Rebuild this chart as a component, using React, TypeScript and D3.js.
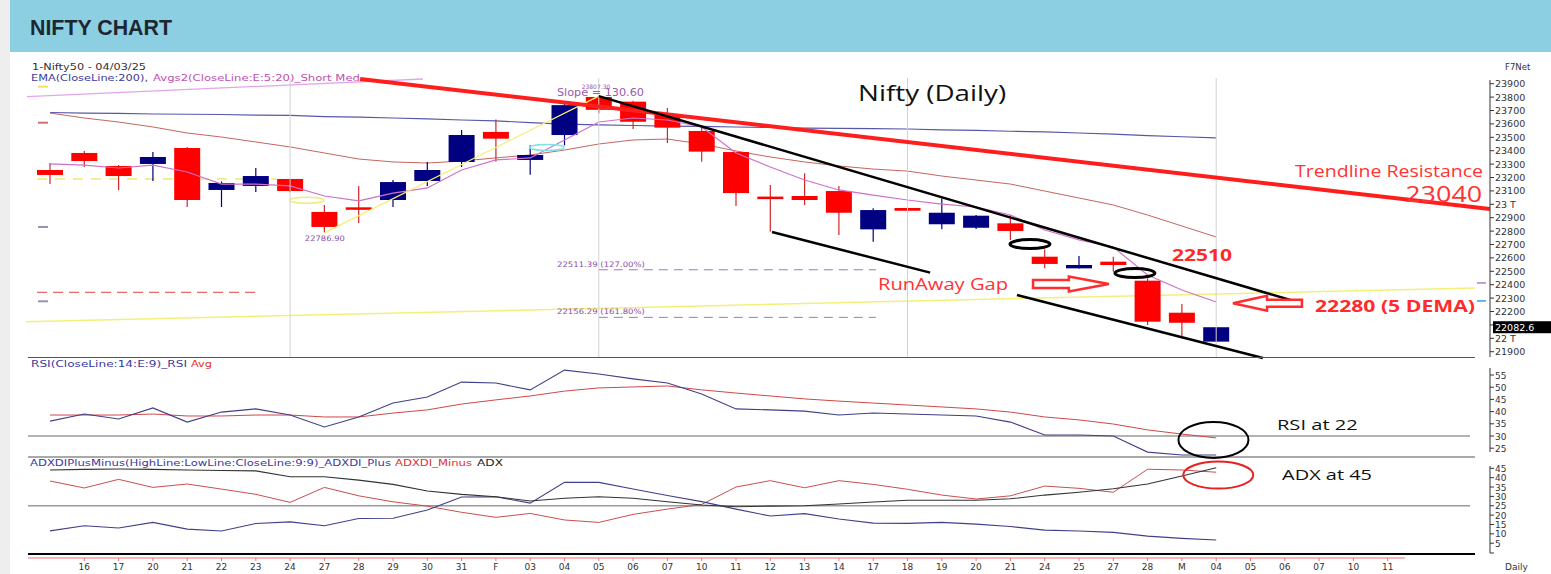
import React from 'react';
import * as d3 from 'd3';

const W = 1551;
const H = 574;

// x labels (index 0 = 15 Jan, unlabeled)
const dateLabels = ["", "16", "17", "20", "21", "22", "23", "24", "27", "28", "29", "30", "31", "F", "03", "04", "05", "06", "07", "10", "11", "12", "13", "14", "17", "18", "19", "20", "21", "24", "25", "27", "28", "M", "04", "05", "06", "07", "10", "11"];

const opens = [23256, 23383, 23286, 23301, 23420, 23107, 23137, 23189, 22943, 22970, 23032, 23174, 23316, 23540, 23331, 23517, 23801, 23766, 23674, 23547, 23390, 23050, 23062, 23099, 22813, 22965, 22851, 22825, 22858, 22609, 22522, 22572, 22430, 22191, 21975];
const highs = [23308, 23398, 23293, 23390, 23428, 23170, 23271, 23190, 22995, 23137, 23181, 23316, 23555, 23632, 23440, 23762, 23807, 23773, 23719, 23572, 23392, 23144, 23231, 23137, 22970, 22968, 23045, 22920, 22920, 22664, 22614, 22609, 22448, 22256, 22082.6];
const lows = [23151, 23278, 23107, 23174, 22980, 22980, 23092, 23090, 22787, 22860, 22980, 23137, 23278, 23318, 23220, 23440, 23680, 23562, 23457, 23318, 22987, 22796, 22995, 22771, 22721, 22948, 22813, 22815, 22734, 22522, 22520, 22497, 22099, 22000, 21975];
const closes = [23219, 23323, 23211, 23353, 23032, 23159, 23211, 23099, 22831, 22965, 23166, 23256, 23517, 23490, 23368, 23740, 23705, 23616, 23572, 23393, 23084, 23045, 23032, 22937, 22957, 22952, 22937, 22915, 22801, 22555, 22547, 22547, 22124, 22116, 22082.6];

const ema200 = [23685, 23681, 23678, 23674, 23672, 23670, 23666, 23663, 23655, 23651, 23644, 23637, 23629, 23622, 23610, 23599, 23592, 23588, 23584, 23581, 23577, 23573, 23569, 23567, 23565, 23562, 23556, 23551, 23545, 23540, 23532, 23523, 23513, 23504, 23495];
const avgShort = [23301, 23293, 23271, 23293, 23241, 23151, 23151, 23137, 23062, 23025, 23084, 23122, 23256, 23331, 23346, 23480, 23614, 23644, 23629, 23577, 23383, 23278, 23181, 23107, 23069, 23032, 23002, 22980, 22920, 22808, 22734, 22681, 22472, 22360, 22271];
const avgMed = [23681, 23644, 23614, 23577, 23532, 23502, 23465, 23428, 23383, 23338, 23316, 23308, 23323, 23346, 23368, 23405, 23450, 23480, 23487, 23450, 23398, 23353, 23316, 23286, 23263, 23248, 23211, 23181, 23151, 23099, 23047, 22995, 22920, 22838, 22756];

const rsi = [36.1, 39.0, 37.0, 41.5, 35.7, 39.8, 41.1, 38.6, 33.7, 37.8, 43.5, 46.0, 52.1, 51.7, 48.9, 57.0, 55.4, 53.4, 51.7, 47.2, 41.1, 40.7, 40.2, 38.6, 39.4, 39.0, 38.6, 38.2, 35.7, 30.4, 30.4, 30.0, 23.4, 22.2, 22.2];
const rsiAvg = [38.6, 38.6, 38.6, 39.0, 38.2, 38.2, 38.6, 38.6, 37.8, 37.8, 39.4, 40.7, 43.1, 44.8, 46.4, 48.4, 49.7, 50.1, 50.5, 48.9, 47.6, 46.4, 45.2, 44.3, 43.5, 42.7, 41.9, 41.1, 39.8, 37.8, 36.6, 34.9, 32.5, 30.8, 29.2];

const diPlus = [11.6, 14.3, 13.1, 16.1, 12.5, 11.5, 15.5, 16.4, 14.3, 18.2, 18.3, 22.7, 29.7, 29.8, 26.4, 37.5, 37.5, 33.9, 30.5, 27.2, 23.2, 19.5, 20.8, 17.9, 15.7, 15.6, 16.1, 15.2, 13.9, 12.0, 11.5, 10.8, 8.8, 7.6, 6.7];
const diMinus = [38.2, 34.5, 39.1, 34.8, 36.6, 33.9, 31.1, 26.8, 34.8, 30.3, 27.1, 24.8, 21.5, 18.8, 20.9, 17.4, 16.1, 20.4, 23.2, 25.7, 35.0, 38.4, 34.6, 38.4, 36.4, 33.8, 30.7, 28.6, 30.3, 35.5, 34.3, 32.2, 44.5, 44.1, 42.9];
const adx = [44.1, 44.4, 44.6, 44.4, 44.1, 43.8, 43.6, 40.5, 40.5, 38.7, 36.4, 32.9, 31.1, 29.8, 27.5, 29.0, 29.8, 29.0, 27.1, 25.4, 24.5, 24.8, 25.0, 25.9, 27.0, 27.9, 27.9, 27.9, 28.7, 30.7, 32.2, 34.1, 36.6, 40.9, 45.3];

const priceTicks = d3.range(21900, 23901, 100);
const rsiTicks = [25, 30, 35, 40, 45, 50, 55];
const adxTicks = [5, 10, 15, 20, 25, 30, 35, 40, 45];
const lastPrice = 22082.6;

// drawn studies: [startIndex, startValue, endIndex, endValue]
const trendResistance = [9.04, 23935, 41.98, 22965];
const channelUpper = [16, 23807, 36.36, 22271];
const channelLowerA = [21.05, 22793, 25.66, 22490];
const channelLowerB = [28.19, 22323, 35.36, 21853];
const yellowLong = [-0.7, 22124, 41.55, 22376];
const yellowSwing = [8, 22787, 16, 23807];
const violetTop = [-0.67, 23803, 10.87, 23935];
const fibLevels = [22511.39, 22156.29];
const fibLabels = ["22511.39 (127.00%)", "22156.29 (161.80%)"];

const PL = 28;
const PR = 1475;
const AX = 1490;

const red = '#ff0000';
const navy = '#000080';
const mono = 'DejaVu Sans, Verdana, sans-serif';
const sans = 'Open Sans, Lato, sans-serif';

export default function App() {
  const x = d3.scaleLinear().domain([0, 38]).range([50, 50 + 34.3 * 38]);
  const yP = d3.scaleLinear().domain([21900, 23900]).range([351.7, 83.7]);
  const yR = d3.scaleLinear().domain([25, 55]).range([448.2, 375]);
  const yA = d3.scaleLinear().domain([5, 45]).range([543.2, 468.3]);

  const lineOf = (ys: d3.ScaleLinear<number, number>) =>
    d3.line<number>().x((_, i) => x(i)).y((d) => ys(d));
  const seg = (s: number[], ys = yP) => `M${x(s[0])},${ys(s[1])}L${x(s[2])},${ys(s[3])}`;

  const bw = 26;
  const candles = opens.map((o, i) => {
    const c = closes[i];
    const up = c >= o;
    const col = up ? navy : red;
    const wick = up ? navy : '#d02828';
    const yt = yP(Math.max(o, c));
    const yb = yP(Math.min(o, c));
    const cx = x(i);
    const flat = yb - yt < 2.5;
    return (
      <g key={i}>
        <line x1={cx} x2={cx} y1={yP(highs[i])} y2={yP(lows[i])} stroke={wick} strokeWidth={1.2} />
        {flat ? (
          <rect x={cx - bw / 2} y={yt - 1} width={bw} height={Math.max(2.5, yb - yt + 1)} fill={col} />
        ) : (
          <rect x={cx - bw / 2} y={yt} width={bw} height={yb - yt} fill={col} />
        )}
      </g>
    );
  });

  // arrows
  const ra = { x1: x(28.66), x2: x(30.87), cy: yP(22405) };
  const rightArrow = `M${ra.x1},${ra.cy - 4}L${ra.x2 - 40},${ra.cy - 4}L${ra.x2 - 40},${ra.cy - 7.5}L${ra.x2},${ra.cy}L${ra.x2 - 40},${ra.cy + 7.5}L${ra.x2 - 40},${ra.cy + 4}L${ra.x1},${ra.cy + 4}Z`;
  const la = { xt: x(34.49), xe: x(36.5), cy: yP(22262) };
  const leftArrow = `M${la.xt},${la.cy}L${la.xt + 34},${la.cy - 7.5}L${la.xt + 34},${la.cy - 3.5}L${la.xe},${la.cy - 3.5}L${la.xe},${la.cy + 3.5}L${la.xt + 34},${la.cy + 3.5}L${la.xt + 34},${la.cy + 7.5}Z`;

  const visiblePriceTicks = priceTicks.filter((v) => Math.abs(yP(v) - yP(lastPrice)) > 8);

  return (
    <svg width={W} height={H} style={{ position: 'absolute', left: 0, top: 0, background: '#fff' }}>
      <rect x={0} y={0} width={W} height={H} fill="#ffffff" />
      <rect x={0} y={0} width={10} height={H} fill="#eeeeee" />
      <rect x={10} y={0} width={W - 10} height={52} fill="#8ccfe2" />
      <text x={30} y={35} fontFamily="Liberation Sans, Arial, sans-serif" fontWeight="bold" fontSize={22} fill="#1d2731" textLength={142} lengthAdjust="spacingAndGlyphs">NIFTY CHART</text>

      {/* legend */}
      <text x={32} y={70} fontFamily={mono} fontSize={9} fill="#333" textLength={114} lengthAdjust="spacingAndGlyphs">1-Nifty50 - 04/03/25</text>
      <text x={31} y={81} fontFamily={mono} fontSize={9} fill="#3a3aa0" textLength={117} lengthAdjust="spacingAndGlyphs">EMA(CloseLine:200),</text>
      <text x={153} y={81} fontFamily={mono} fontSize={9} fill="#c050b0" textLength={207} lengthAdjust="spacingAndGlyphs">Avgs2(CloseLine:E:5:20)_Short Med</text>
      <text x={1505} y={70} fontFamily={mono} fontSize={8.5} fill="#333">F7Net</text>

      {/* main panel studies */}
      <path d={seg(violetTop)} stroke="#e2a6ea" strokeWidth={1.3} fill="none" />
      <path d={lineOf(yP)(ema200) || ''} stroke="#5858a8" strokeWidth={1.2} fill="none" />
      <path d={lineOf(yP)(avgMed) || ''} stroke="#c46660" strokeWidth={1} fill="none" />
      <path d={seg(yellowLong)} stroke="#f2f078" strokeWidth={1.5} fill="none" />
      <line x1={x(-0.38)} x2={x(6.6)} y1={yP(23189)} y2={yP(23189)} stroke="#f2ee96" strokeWidth={2} strokeDasharray="10 8" />
      <line x1={x(-0.38)} x2={x(5.98)} y1={yP(22343)} y2={yP(22343)} stroke="#e06868" strokeWidth={1.2} strokeDasharray="10 6" />
      {fibLevels.map((v, k) => (
        <g key={k}>
          <line x1={x(16)} x2={x(24.08)} y1={yP(v)} y2={yP(v)} stroke="#9a7ab8" strokeWidth={1} strokeDasharray="9 6" />
          <text x={x(14.78)} y={yP(v) - 3} fontFamily={mono} fontSize={7.5} fill="#8a50a8" textLength={88} lengthAdjust="spacingAndGlyphs">{fibLabels[k]}</text>
        </g>
      ))}
      {/* left / right level markers */}
      <line x1={38} x2={48} y1={yP(23878)} y2={yP(23878)} stroke="#f0e060" strokeWidth={2} />
      <line x1={38} x2={48} y1={yP(23609)} y2={yP(23609)} stroke="#d07070" strokeWidth={2} />
      <line x1={38} x2={48} y1={yP(22831)} y2={yP(22831)} stroke="#9a90b0" strokeWidth={2} />
      <line x1={38} x2={48} y1={yP(22276)} y2={yP(22276)} stroke="#9a90b0" strokeWidth={2} />
      <line x1={1477} x2={1486} y1={yP(22413)} y2={yP(22413)} stroke="#b080c0" strokeWidth={1.5} />
      <line x1={1477} x2={1486} y1={yP(22279)} y2={yP(22279)} stroke="#40a0d8" strokeWidth={1.5} />

      {candles}
      <path d={lineOf(yP)(avgShort) || ''} stroke="#d070c8" strokeWidth={1.2} fill="none" />
      <path d={seg(yellowSwing)} stroke="#f4f070" strokeWidth={1.2} fill="none" />
      <ellipse cx={x(7.49)} cy={yP(23031)} rx={17} ry={3} fill="none" stroke="#f0ec80" strokeWidth={1.5} />
      <ellipse cx={x(14.49)} cy={yP(23424)} rx={17} ry={3} fill="none" stroke="#80e0e8" strokeWidth={1.5} />

      {/* vertical grid */}
      {[7, 16, 25, 34].map((i) => (
        <line key={i} x1={x(i)} x2={x(i)} y1={78} y2={357} stroke="#d2d2d2" strokeWidth={1} />
      ))}

      {/* drawn lines */}
      <path d={seg(trendResistance)} stroke="#ff1e1e" strokeWidth={4} fill="none" />
      <path d={seg(channelUpper)} stroke="#000" strokeWidth={2.5} fill="none" />
      <path d={seg(channelLowerA)} stroke="#000" strokeWidth={2.5} fill="none" />
      <path d={seg(channelLowerB)} stroke="#000" strokeWidth={2.5} fill="none" />
      <ellipse cx={x(28.57)} cy={yP(22703)} rx={20} ry={4.5} fill="none" stroke="#000" strokeWidth={3} />
      <ellipse cx={x(31.63)} cy={yP(22487)} rx={20} ry={4.5} fill="none" stroke="#000" strokeWidth={3} />
      <path d={rightArrow} fill="#fff" stroke="#ff2d2d" strokeWidth={2.5} />
      <path d={leftArrow} fill="#fff" stroke="#ff2d2d" strokeWidth={2.5} />

      {/* text annotations */}
      <text x={x(14.78)} y={yP(23808)} fontFamily={mono} fontSize={10} fill="#9a5ab0" textLength={87} lengthAdjust="spacingAndGlyphs">Slope = 130.60</text>
      <text x={x(15.5)} y={yP(23860)} fontFamily={mono} fontSize={6} fill="#9a5ab0">23807.30</text>
      <text x={x(7.43)} y={yP(22726)} fontFamily={mono} fontSize={7.5} fill="#8a50a8" textLength={40} lengthAdjust="spacingAndGlyphs">22786.90</text>
      <text x={x(23.56)} y={yP(23771)} fontFamily={sans} fontSize={21} fill="#111" textLength={148} lengthAdjust="spacingAndGlyphs">Nifty (Daily)</text>
      <text x={x(36.3)} y={yP(23202)} fontFamily={sans} fontSize={15.5} fill="#ff3333" textLength={188} lengthAdjust="spacingAndGlyphs">Trendline Resistance</text>
      <text x={x(39.51)} y={yP(23016)} fontFamily={sans} fontSize={21} fill="#ff3333" textLength={77} lengthAdjust="spacingAndGlyphs">23040</text>
      <text x={x(32.71)} y={yP(22576)} fontFamily={sans} fontWeight="bold" fontSize={16} fill="#ff2a2a" textLength={60} lengthAdjust="spacingAndGlyphs">22510</text>
      <text x={x(24.14)} y={yP(22362)} fontFamily={sans} fontSize={16} fill="#ff3333" textLength={130} lengthAdjust="spacingAndGlyphs">RunAway Gap</text>
      <text x={x(36.88)} y={yP(22197)} fontFamily={sans} fontWeight="bold" fontSize={16} fill="#ff2a2a" textLength={160} lengthAdjust="spacingAndGlyphs">22280 (5 DEMA)</text>

      {/* price axis */}
      <line x1={AX} x2={AX} y1={80} y2={357} stroke="#333" strokeWidth={1} />
      {priceTicks.map((v) => (
        <line key={v} x1={AX} x2={AX + 4} y1={yP(v)} y2={yP(v)} stroke="#333" />
      ))}
      {visiblePriceTicks.map((v) => (
        <text key={v} x={AX + 5} y={yP(v) + 3.5} fontFamily={mono} fontSize={9.5} fill="#333">{v % 1000 === 0 ? `${v / 1000} T` : v}</text>
      ))}
      <rect x={AX + 3} y={yP(lastPrice) - 6} width={W - AX - 3} height={12} fill="#000" />
      <text x={AX + 5} y={yP(lastPrice) + 3.5} fontFamily={mono} fontSize={9.5} fill="#fff">{lastPrice.toFixed(1)}</text>

      {/* panel separators */}
      <line x1={PL} x2={PR} y1={357.5} y2={357.5} stroke="#555" strokeWidth={1.2} />
      <line x1={PL} x2={PR} y1={457} y2={457} stroke="#555" strokeWidth={1.2} />

      {/* RSI panel */}
      <text x={31} y={367} fontFamily={mono} fontSize={9} fill="#3a3aa0" textLength={156} lengthAdjust="spacingAndGlyphs">RSI(CloseLine:14:E:9)_RSI</text>
      <text x={191} y={367} fontFamily={mono} fontSize={9} fill="#e03030" textLength={21} lengthAdjust="spacingAndGlyphs">Avg</text>
      <line x1={PL} x2={1470} y1={yR(30)} y2={yR(30)} stroke="#9a9a9a" strokeWidth={1.5} />
      <path d={lineOf(yR)(rsiAvg) || ''} stroke="#d04848" strokeWidth={1} fill="none" />
      <path d={lineOf(yR)(rsi) || ''} stroke="#404088" strokeWidth={1.1} fill="none" />
      <line x1={AX} x2={AX} y1={368} y2={452} stroke="#333" />
      {rsiTicks.map((v) => (
        <g key={v}>
          <line x1={AX} x2={AX + 4} y1={yR(v)} y2={yR(v)} stroke="#333" />
          <text x={AX + 5} y={yR(v) + 3.5} fontFamily={mono} fontSize={9} fill="#333">{v}</text>
        </g>
      ))}
      <ellipse cx={x(33.92)} cy={yR(28.4)} rx={35} ry={18} fill="none" stroke="#000" strokeWidth={2} />
      <text x={x(35.77)} y={yR(32.3)} fontFamily={sans} fontSize={15} fill="#111" textLength={81} lengthAdjust="spacingAndGlyphs">RSI at 22</text>

      {/* ADX panel */}
      <text x={30} y={466} fontFamily={mono} fontSize={9} fill="#3a3aa0" textLength={361} lengthAdjust="spacingAndGlyphs">ADXDIPlusMinus(HighLine:LowLine:CloseLine:9:9)_ADXDI_Plus</text>
      <text x={395} y={466} fontFamily={mono} fontSize={9} fill="#e03030" textLength={77} lengthAdjust="spacingAndGlyphs">ADXDI_Minus</text>
      <text x={477} y={466} fontFamily={mono} fontSize={9} fill="#222" textLength={26} lengthAdjust="spacingAndGlyphs">ADX</text>
      <line x1={PL} x2={1470} y1={yA(25)} y2={yA(25)} stroke="#9a9a9a" strokeWidth={1.5} />
      <path d={lineOf(yA)(diMinus) || ''} stroke="#c85050" strokeWidth={1} fill="none" />
      <path d={lineOf(yA)(diPlus) || ''} stroke="#404088" strokeWidth={1.1} fill="none" />
      <path d={lineOf(yA)(adx) || ''} stroke="#333" strokeWidth={1.1} fill="none" />
      <line x1={AX} x2={AX} y1={466} y2={553} stroke="#333" />
      <line x1={AX} x2={AX + 4} y1={553} y2={553} stroke="#333" />
      {adxTicks.map((v) => (
        <g key={v}>
          <line x1={AX} x2={AX + 4} y1={yA(v)} y2={yA(v)} stroke="#333" />
          <text x={AX + 5} y={yA(v) + 3.5} fontFamily={mono} fontSize={9} fill="#333">{v}</text>
        </g>
      ))}
      <ellipse cx={x(34.06)} cy={yA(41.4)} rx={35} ry={13.5} fill="none" stroke="#e82020" strokeWidth={2} />
      <text x={x(35.92)} y={yA(38.5)} fontFamily={sans} fontSize={15} fill="#111" textLength={90} lengthAdjust="spacingAndGlyphs">ADX at 45</text>

      {/* x axis */}
      <line x1={PL} x2={PR} y1={554} y2={554} stroke="#000" strokeWidth={2.2} />
      <line x1={PL} x2={1405} y1={558} y2={558} stroke="#f07070" strokeWidth={1} />
      {dateLabels.map((lab, i) =>
        lab ? (
          <g key={i}>
            <line x1={x(i)} x2={x(i)} y1={558} y2={561} stroke="#f07070" />
            <text x={x(i)} y={570} textAnchor="middle" fontFamily={mono} fontSize={9} fill="#333">{lab}</text>
          </g>
        ) : null
      )}
      <text x={1505} y={570} fontFamily={mono} fontSize={9} fill="#333">Daily</text>
    </svg>
  );
}
